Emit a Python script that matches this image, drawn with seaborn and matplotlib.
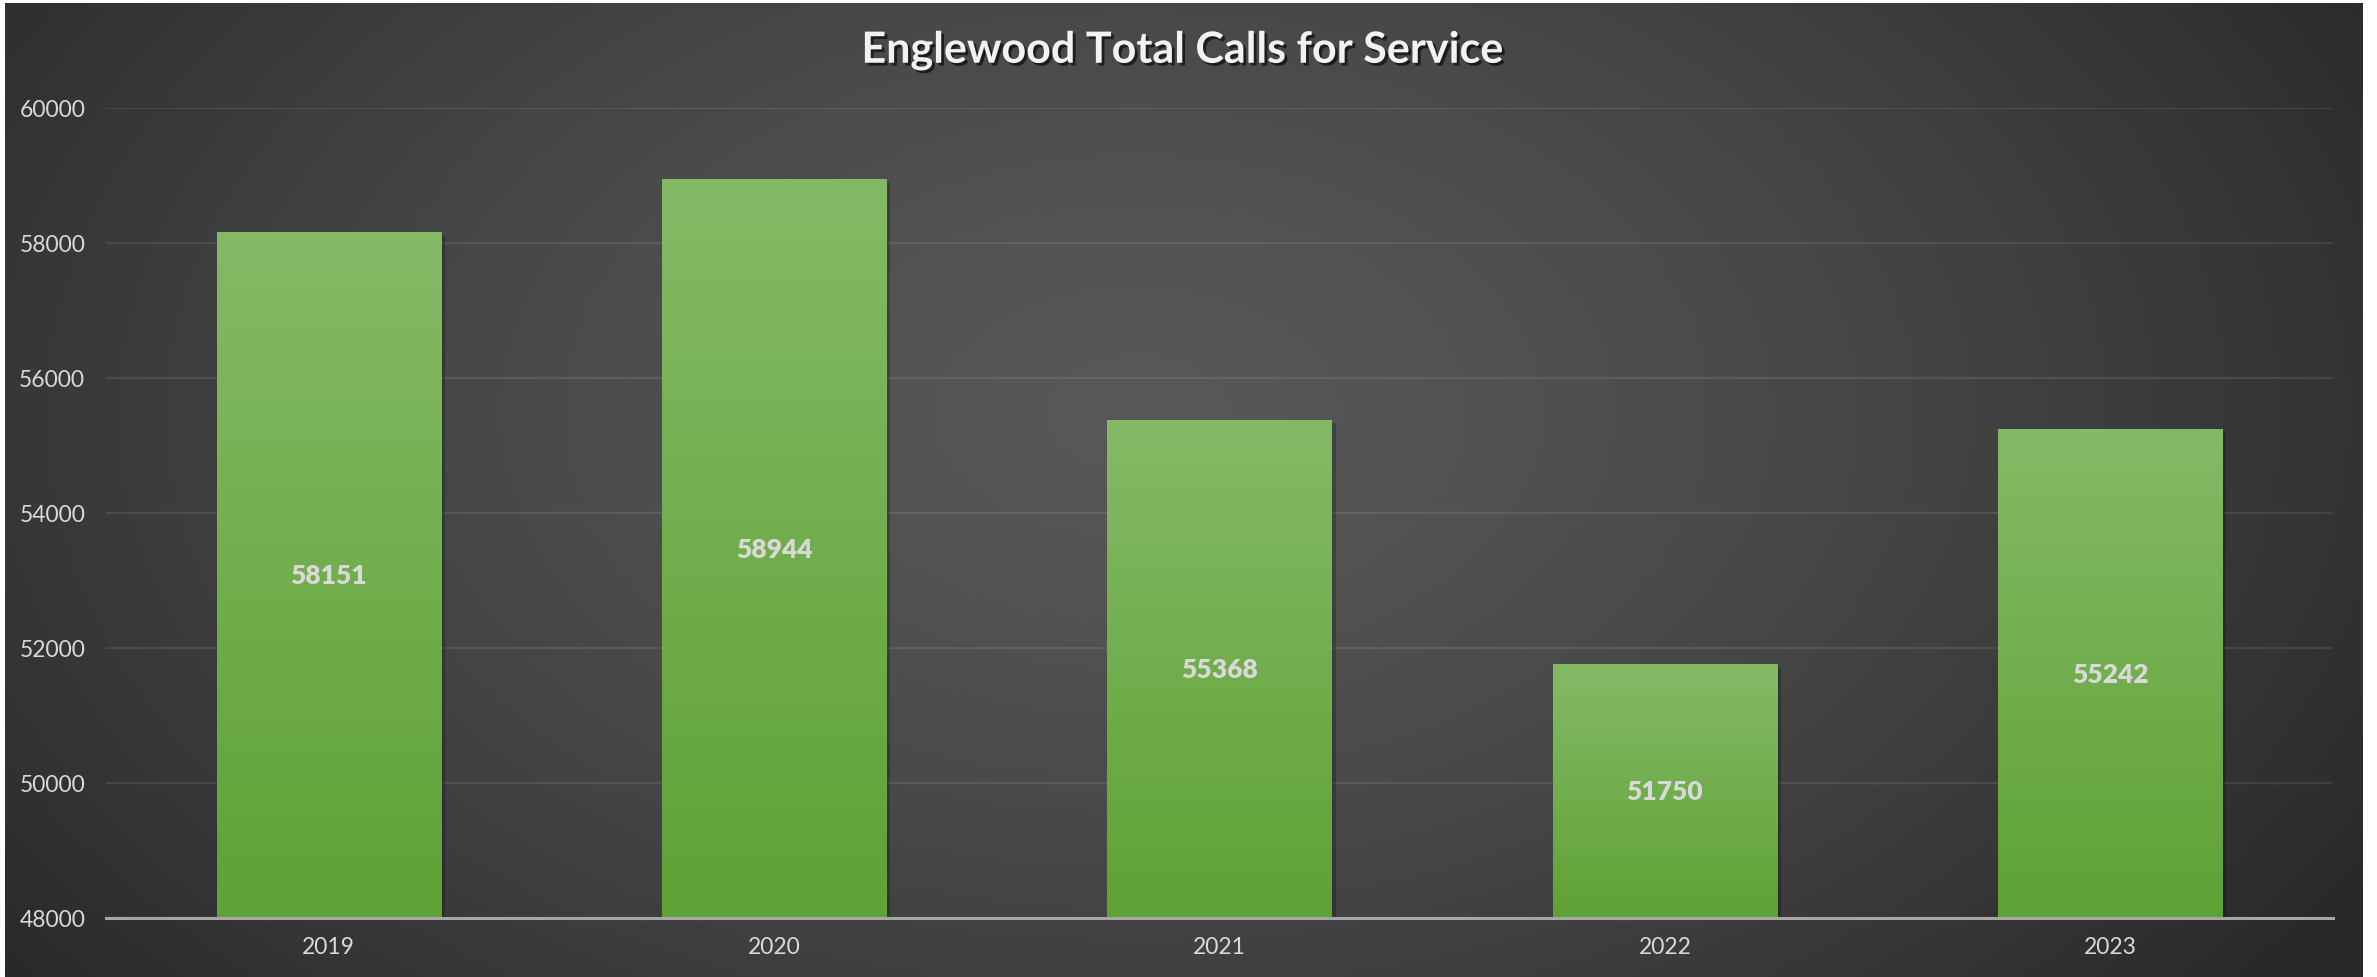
import numpy as np
import matplotlib
matplotlib.use("Agg")
import matplotlib.pyplot as plt
import matplotlib.patheffects as pe
from matplotlib.colors import LinearSegmentedColormap
import seaborn as sns

# Data
years = ["2019", "2020", "2021", "2022", "2023"]
calls = [58151, 58944, 55368, 51750, 55242]
y_ticks = [48000, 50000, 52000, 54000, 56000, 58000, 60000]
title = "Englewood Total Calls for Service"

sns.set_theme(style="dark")
plt.rcParams["font.family"] = ["Lato", "DejaVu Sans"]

W, H = 2377, 978
fig = plt.figure(figsize=(W / 100, H / 100), dpi=100, facecolor="white")

# Dark panel with a soft radial glow
bg = fig.add_axes([5 / W, 0, (2363 - 5) / W, (H - 4) / H])
bg.set_axis_off()
gy, gx = np.mgrid[0:1:300j, 0:1:700j]
r = np.sqrt(((gx - 0.48) / 0.62) ** 2 + ((gy - 0.42) / 0.95) ** 2)
r = np.clip(r, 0, 1)
light = np.array([0x58, 0x58, 0x58]) / 255
dark = np.array([0x28, 0x28, 0x28]) / 255
t = r[..., None] ** 1.4
img = light * (1 - t) + dark * t
bg.imshow(img, extent=[0, 1, 0, 1], aspect="auto", origin="upper")
bg.set_xlim(0, 1)
bg.set_ylim(0, 1)

# Chart area
left, right = 106 / W, 2333 / W
bottom, top = (H - 919) / H, (H - 109) / H
ax = fig.add_axes([left, bottom, right - left, top - bottom])
ax.patch.set_alpha(0)

sns.barplot(x=years, y=calls, ax=ax, width=0.503, color="#6fae4a",
            saturation=1, zorder=2, linewidth=0)

ymin, ymax = y_ticks[0], y_ticks[-1]

# Vertical green gradient on each bar
bar_cmap = LinearSegmentedColormap.from_list("bar", ["#5fa235", "#84ba66"])
grad = np.linspace(0, 1, 256)[:, None]
for patch, val in zip(ax.patches, calls):
    x0 = patch.get_x()
    w = patch.get_width()
    patch.set_linewidth(0)
    patch.set_facecolor("#5f9f38")
    patch.set_path_effects([
        pe.SimplePatchShadow(offset=(3, -2), shadow_rgbFace="black", alpha=0.22),
        pe.Normal(),
    ])
    ax.imshow(grad, extent=[x0, x0 + w, ymin, val], aspect="auto",
              origin="lower", cmap=bar_cmap, zorder=3)
    ax.text(x0 + w / 2, (ymin + val) / 2, f"{val}", ha="center", va="center",
            fontsize=19, fontweight="heavy", color="#d9d9d9", zorder=4)

ax.set_xlim(-0.5, len(years) - 0.5)
ax.set_ylim(ymin, ymax)
ax.set_yticks(y_ticks)
ax.set_yticklabels([str(v) for v in y_ticks])

ax.yaxis.grid(True, color="white", alpha=0.09, linewidth=1.6, zorder=0)
ax.xaxis.grid(False)
ax.set_axisbelow(True)
for s in ["left", "right", "top"]:
    ax.spines[s].set_visible(False)
ax.spines["bottom"].set_visible(True)
ax.spines["bottom"].set_color("#a6a6a6")
ax.spines["bottom"].set_linewidth(2.2)
ax.spines["bottom"].set_zorder(5)

ax.tick_params(axis="y", length=0, pad=15, labelsize=16.5, labelcolor="#d9d9d9")
ax.tick_params(axis="x", length=0, pad=13, labelsize=16.5, labelcolor="#d9d9d9")
ax.set_xlabel("")
ax.set_ylabel("")

fig.text(1182 / W, 1 - 51 / H, title, ha="center", va="center",
         fontsize=31, fontweight="bold", color="#f2f2f2",
         path_effects=[pe.withSimplePatchShadow(offset=(2, -2), shadow_rgbFace="black", alpha=0.6)])

fig.savefig("out.png", dpi=100, facecolor="white")
